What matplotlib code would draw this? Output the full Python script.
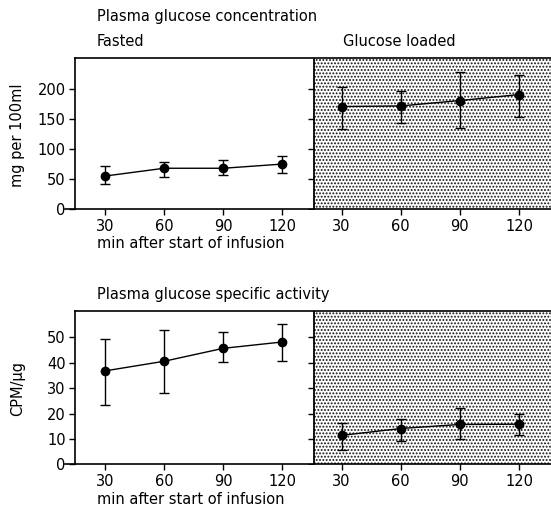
import numpy as np
import matplotlib
matplotlib.use("Agg")
import matplotlib.pyplot as plt

minutes = [30, 60, 90, 120]

# plasma glucose concentration (mg per 100ml)
conc_fasted = [55, 68, 68, 75]
conc_fasted_lo = [42, 53, 56, 60]
conc_fasted_hi = [71, 79, 81, 88]
conc_loaded = [171, 172, 181, 191]
conc_loaded_lo = [134, 143, 135, 153]
conc_loaded_hi = [203, 197, 229, 223]

# plasma glucose specific activity (CPM/ug)
act_fasted = [36.8, 40.6, 45.7, 48.2]
act_fasted_lo = [23.2, 28.2, 40.3, 40.8]
act_fasted_hi = [49.2, 52.8, 52.2, 55.4]
act_loaded = [11.4, 14.1, 15.7, 15.8]
act_loaded_lo = [5.7, 9.3, 9.8, 11.4]
act_loaded_hi = [16.2, 17.8, 22.0, 19.9]

plt.rcParams['font.family'] = ['DejaVu Sans']
plt.rcParams['hatch.linewidth'] = 0.9
fs = 10.5

W, H = 551, 515
fig = plt.figure(figsize=(W / 100, H / 100), dpi=100)

x_f = np.arange(1, 5)
x_l = np.arange(5, 9)
split = 4.53


def panel(top_px, bot_px, ymax, yticks, f, flo, fhi, l, llo, lhi):
    x0 = 0.33
    x1 = 8.54
    left_px = 105 - (1 - x0) * 59.14
    ax = fig.add_axes([left_px / W, (H - bot_px) / H, (W - left_px) / W, (bot_px - top_px) / H])
    ax.set_xlim(x0, x1)
    ax.set_ylim(0, ymax)
    ax.axvspan(split, x1 + 1, facecolor='white', hatch='.....', edgecolor='#111111', linewidth=0, zorder=0)
    for xs, v, lo, hi in [(x_f, f, flo, fhi), (x_l, l, llo, lhi)]:
        v = np.array(v)
        err = [v - np.array(lo), np.array(hi) - v]
        ax.errorbar(xs, v, yerr=err, color='black', lw=1.0, elinewidth=1.0, capsize=3.5,
                    capthick=1.0, marker='o', ms=6, zorder=3)
    # divider between the two conditions with ticks
    ax.axvline(split, color='black', lw=1.3, zorder=2)
    ax.plot([split] * len(yticks), yticks, ls='none', marker=0, ms=4, mew=1.0, color='black', zorder=2)
    ax.spines['left'].set_position(('data', 0.5))
    ax.spines['top'].set_bounds(0.5, x1)
    ax.spines['right'].set_visible(False)
    for s in ax.spines.values():
        s.set_linewidth(1.2)
    ax.set_yticks(yticks)
    ax.set_xticks(np.arange(1, 9))
    ax.set_xticklabels([str(m) for m in minutes] * 2)
    ax.tick_params(direction='out', length=4, width=1.0, labelsize=fs, pad=3)
    return ax


ax1 = panel(58, 209, 252, [0, 50, 100, 150, 200],
            conc_fasted, conc_fasted_lo, conc_fasted_hi,
            conc_loaded, conc_loaded_lo, conc_loaded_hi)
ax2 = panel(311, 464.3, 60.4, [0, 10, 20, 30, 40, 50],
            act_fasted, act_fasted_lo, act_fasted_hi,
            act_loaded, act_loaded_lo, act_loaded_hi)


def ftext(xp, yp, s, **kw):
    fig.text(xp / W, (H - yp) / H, s, fontsize=fs, va='center', **kw)


ftext(97, 17, "Plasma glucose concentration")
ftext(97, 41, "Fasted")
ftext(343, 41, "Glucose loaded")
ftext(97, 244, "min after start of infusion")
ftext(18, 135, "mg per 100ml", rotation=90, ha='center')
ftext(97, 295, "Plasma glucose specific activity")
ftext(97, 500, "min after start of infusion")
ftext(18, 388, "CPM/\u00b5g", rotation=90, ha='center')

fig.savefig("out.png", dpi=100)
